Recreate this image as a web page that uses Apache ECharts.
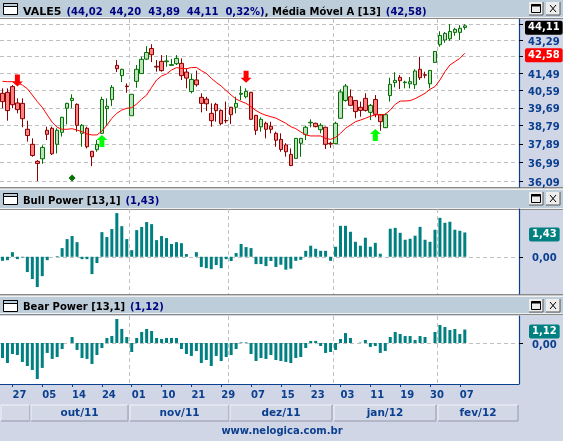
<!DOCTYPE html>
<html><head><meta charset="utf-8">
<style>html,body{margin:0;padding:0;background:#D0D6E6}#c{width:563px;height:441px}</style>
<script src="https://cdn.jsdelivr.net/npm/echarts@6/dist/echarts.min.js"></script>
</head><body><div id="c"></div>
<script>
// [open, close, low, high]
const candles = [
[40.44,40.01,39.67,40.70],[40.49,39.55,39.04,40.70],[40.79,39.85,39.67,40.87],[39.94,39.60,39.41,40.18],[39.92,39.14,38.71,40.18],
[38.61,38.30,38.00,39.04],[37.87,37.33,37.27,38.16],[37.05,36.95,36.12,37.11],[37.17,37.72,36.93,37.82],[38.56,38.36,38.08,38.74],
[38.66,37.41,37.35,38.74],[37.87,38.56,37.43,38.66],[38.46,39.21,38.25,39.24],[39.67,39.92,38.86,39.95],[40.07,40.18,39.67,40.39],
[39.87,38.81,38.49,39.92],[38.41,38.81,37.75,38.87],[38.66,37.75,37.67,38.74],[37.53,37.27,36.82,37.55],[37.61,37.87,37.51,38.08],
[38.41,40.12,38.38,40.26],[39.65,39.77,38.82,40.18],[40.11,40.75,39.78,40.87],[41.92,41.74,41.56,42.21],[41.37,41.71,41.03,41.74],
[40.82,40.79,40.47,40.96],[39.29,40.39,39.29,40.39],[41.07,41.71,40.73,41.94],[41.48,42.25,41.46,42.39],[42.26,42.62,42.21,42.97],
[42.84,42.50,42.10,43.08],[41.87,41.83,41.58,42.21],[42.14,41.64,41.58,42.48],[42.12,42.16,41.85,42.48],[41.92,41.96,41.90,42.27],
[42.01,42.30,41.94,42.48],[42.03,41.37,41.14,42.30],[41.56,41.24,40.70,41.76],[40.53,41.17,40.44,41.46],[41.14,40.89,40.79,41.64],
[40.23,39.92,39.46,40.44],[40.14,39.90,39.53,40.26],[39.41,39.04,38.74,39.92],[39.87,39.55,38.99,39.95],[39.56,38.89,38.82,39.61],
[39.05,39.03,38.91,40.01],[39.72,39.34,38.87,39.74],[39.72,39.92,39.41,40.26],[40.39,40.44,40.09,40.82],[40.26,40.54,40.18,40.70],
[40.49,39.11,39.07,40.52],[39.31,38.56,38.33,39.33],[38.73,39.11,38.49,39.21],[38.91,38.61,38.16,38.99],[38.76,38.61,38.41,38.99],
[38.41,38.07,37.75,38.49],[38.11,37.62,37.51,38.41],[37.84,37.51,37.27,37.92],[37.38,36.85,36.82,37.67],[37.19,38.16,37.17,38.18],
[37.92,38.16,37.27,38.18],[38.36,38.71,38.08,38.79],[38.93,38.96,38.71,39.11],[38.91,38.74,38.71,38.94],[38.59,38.81,38.41,38.91],
[38.71,37.87,37.64,38.74],[37.92,37.89,37.70,38.00],[37.90,38.91,37.87,38.99],[39.16,40.51,39.14,40.65],[40.07,40.82,40.01,40.93],
[40.26,39.82,39.78,40.65],[40.07,39.50,39.16,40.09],[39.72,39.56,39.24,40.01],[40.18,39.56,39.50,40.44],[39.46,39.82,39.07,39.89],
[40.12,39.36,39.21,40.35],[39.34,38.99,38.54,39.38],[38.69,39.34,38.67,39.41],[40.32,40.91,40.01,41.26],[41.00,41.12,40.75,41.55],
[41.28,41.10,40.66,41.40],[41.00,41.03,40.70,41.10],[40.94,41.05,40.70,41.30],[40.89,41.62,40.66,41.71],[41.71,41.26,41.14,42.39],
[41.42,41.39,41.23,41.58],[40.94,41.65,40.70,41.67],[42.08,42.68,42.06,42.70],[43.05,43.57,42.94,43.80],[43.31,43.68,43.16,43.76],
[43.38,43.79,43.27,44.21],[43.74,43.91,43.55,44.00],[43.74,43.97,43.31,44.15],[44.02,44.11,43.89,44.20]];
const movingAvg = [41.07,41.05,41.05,41.00,40.87,40.68,40.35,40.01,39.72,39.33,38.96,38.71,38.61,38.61,38.64,38.57,38.49,38.38,38.33,38.33,
38.52,38.82,39.16,39.41,39.58,39.67,39.70,39.89,40.14,40.35,40.75,41.14,41.35,41.46,41.67,41.80,41.76,41.74,41.80,41.81,
41.64,41.49,41.23,41.01,40.82,40.58,40.35,40.14,40.02,39.92,39.75,39.55,39.41,39.31,39.24,39.17,39.04,38.91,38.74,38.64,
38.48,38.33,38.28,38.28,38.28,38.16,38.11,38.21,38.41,38.66,38.82,38.99,39.07,39.16,39.26,39.33,39.34,39.36,39.58,39.87,
40.04,40.04,40.06,40.16,40.30,40.44,40.65,40.79,41.14,41.58,41.94,42.12,42.30,42.58];
const bullPower = [-0.24,-0.20,0.27,-0.14,-0.04,-0.90,-1.31,-1.78,-1.14,-0.20,0,0.04,0.51,1.04,1.22,0.86,-0.14,-0.14,-1.02,-0.37,
1.45,1.16,1.63,2.57,1.80,1.04,0.39,1.57,1.75,2.04,1.92,0.98,1.22,1.10,0.75,0.86,0.80,0.16,0,0.27,
-0.60,-0.67,-0.73,-0.49,-0.67,-0.14,-0.25,0.22,0.75,0.57,0.51,-0.43,-0.43,-0.55,-0.25,-0.60,-0.47,-0.76,-0.70,-0.24,
-0.18,0.35,0.65,0.47,0.35,0.35,-0.24,0.59,1.82,1.82,1.47,0.88,0.65,1.12,0.59,0.82,0.18,0,1.65,1.70,
1.41,1.00,1.06,1.24,1.76,1.00,0.88,1.59,2.29,2.00,2.06,1.59,1.53,1.43];
const bearPower = [-1.25,-1.67,-0.92,-1.00,-1.58,-1.92,-2.25,-3.00,-2.08,-0.83,-1.33,-1.17,-0.50,0,0.50,-0.58,-1.25,-1.33,-1.75,-1.00,
-0.42,0.42,0.58,2.00,1.17,0.50,-0.75,0.42,0.92,1.17,1.00,0.42,0.33,0.42,0.42,0.42,-0.50,-0.92,-1.08,-0.67,
-1.67,-1.42,-1.92,-1.08,-1.50,-1.17,-1.00,-0.50,0.05,0.05,-0.92,-1.50,-1.25,-1.33,-1.00,-1.42,-1.50,-1.58,-1.67,-1.25,
-1.17,-0.42,0.17,0.17,-0.25,-0.83,-0.75,-0.58,0.33,0.83,0.42,0,0.03,0.25,-0.33,-0.25,-0.83,-0.67,0.50,0.92,
0.75,0.58,0.58,0.25,0.58,0.50,0,0.92,1.50,1.33,1.08,1.17,0.75,1.12];
const dayTicks = ['27','05','14','24','01','10','21','29','07','15','23','03','11','19','30','07'];
const monthLabels = ['', 'out/11','nov/11','dez/11','jan/12','fev/12'];
const monthStarts = [6,26,46,67,88];
const priceTicks = [36.09,36.99,37.89,38.79,39.69,40.59,41.49,42.39,43.29,44.19];
const priceLabels = [36.09,36.99,37.89,38.79,39.69,40.59,41.49,43.29];
const lastClose = 44.11, lastAvg = 42.58, lastBull = 1.43, lastBear = 1.12;
const headerValues = ['44,02','44,20','43,89','44,11','0,32%'];
const sellSignals = [[3,41.11],[49,41.31]];
const buySignals = [[20,38.03],[75,38.33]];
const diamonds = [[14,36.26]];

const SLOTS = 104, BLUE = '#0B3F8F', BG = '#D0D6E6', BAR = '#BECDDA', GREY='#C0C0C0';
const cats = Array.from({length:SLOTS},(_,i)=> 'd'+i);
const comma = v => v.toFixed(2).replace('.',',');
const FF = '"DejaVu Sans", Verdana, sans-serif';
const isDayTick = i => i>=2 && (i-2)%6===0 && (i-2)/6<dayTicks.length;
const isMonth = i => monthStarts.includes(i);
const ARROW_DOWN='path://M3,0H8V7H11L5.5,12L0,7H3Z', ARROW_UP='path://M5.5,0L11,5H8V12H3V5H0Z';
const DASH=[4,3];

function xAxis(gridIndex, bottom){
  return {type:'category',gridIndex,data:cats,boundaryGap:true,min:0,max:SLOTS-1,
    axisLine:{show:bottom,onZero:false,lineStyle:{color:BLUE,width:1}},
    axisTick:{show:bottom,alignWithLabel:true,length:3,interval:i=>isDayTick(i),lineStyle:{color:BLUE}},
    axisLabel:{show:bottom,interval:i=>isDayTick(i),align:'left',margin:6,color:BLUE,fontFamily:FF,fontWeight:'bold',fontSize:10,
      formatter:v=>{const i=+v.slice(1);return isDayTick(i)?dayTicks[(i-2)/6]:'';},hideOverlap:false,showMinLabel:true,showMaxLabel:true},
    splitLine:{show:true,showMaxLine:false,showMinLine:false,interval:i=>isMonth(i),lineStyle:{color:GREY,type:DASH,width:1}}};
}
function yAxisBase(gridIndex,extra){
  return Object.assign({gridIndex,position:'right',offset:2,scale:false,
    axisLine:{show:true,onZero:false,lineStyle:{color:BLUE,width:1.2}},
    axisTick:{show:true,length:4,lineStyle:{color:'#000'}},
    splitLine:{show:true,lineStyle:{color:GREY,type:DASH,width:1}}},extra);
}
const plain = {color:BLUE,fontFamily:FF,fontWeight:'bold',fontSize:10,padding:[1,3,1,3]};
const tag = c => ({color:'#fff',backgroundColor:c,borderRadius:2,fontFamily:FF,fontWeight:'bold',fontSize:10,padding:[2,3,2,3]});
const T = (color,size)=>({color,fontFamily:FF,fontWeight:'bold',fontSize:size});

const option = {
  backgroundColor:BG, animation:false,
  title:[
    {left:23,top:3,padding:0,text:`{h|VALE5} {v|(${headerValues[0]}  ${headerValues[1]}  ${headerValues[2]}  ${headerValues[3]}  ${headerValues[4]})}{k|, Média Móvel A [13]} {v|(${comma(lastAvg)})}`,
     textStyle:{rich:{h:T('#000',11),k:T('#000',10),v:T('#000080',10)}}},
    {left:23,top:192,padding:0,text:`{k|Bull Power [13,1]} {v|(${comma(lastBull)})}`,
     textStyle:{rich:{k:T('#000',10),v:T('#000080',10)}}},
    {left:23,top:298,padding:0,text:`{k|Bear Power [13,1]} {v|(${comma(lastBear)})}`,
     textStyle:{rich:{k:T('#000',10),v:T('#000080',10)}}}
  ],
  grid:[
    {left:0,width:517,top:19,height:168,outerBoundsMode:'none'},
    {left:0,width:517,top:209,height:85,outerBoundsMode:'none'},
    {left:0,width:517,top:316,height:68,outerBoundsMode:'none'}
  ],
  xAxis:[xAxis(0,false),xAxis(1,false),xAxis(2,true)],
  yAxis:[
    yAxisBase(0,{type:'log',logBase:Math.E,min:35.845,max:44.50,
      axisTick:{show:true,length:4,customValues:priceTicks,lineStyle:{color:'#000'}},
      axisLabel:{customValues:priceLabels.concat([lastClose,lastAvg]),margin:6,padding:[4,0,0,0],hideOverlap:false,
        formatter:v=>{ if(v===lastClose) return '{b|'+comma(v)+'}'; if(v===lastAvg) return '{r|'+comma(v)+'}'; return '{p|'+comma(v)+'}'; },
        rich:{p:plain,b:tag('#000'),r:tag('#FF0000')}}}),
    yAxisBase(1,{type:'value',min:-2.19,max:2.81,
      axisTick:{show:true,length:4,customValues:[0],lineStyle:{color:'#000'}},
      axisLabel:{customValues:[0,lastBull],margin:10,padding:[4,0,0,0],hideOverlap:false,
        formatter:v=>v===0?'{p|'+comma(v)+'}':'{t|'+comma(v)+'}',rich:{p:plain,t:tag('#008080')}}}),
    yAxisBase(2,{type:'value',min:-3.42,max:2.25,
      axisTick:{show:true,length:4,customValues:[0],lineStyle:{color:'#000'}},
      axisLabel:{customValues:[0,lastBear],margin:10,padding:[4,0,0,0],hideOverlap:false,
        formatter:v=>v===0?'{p|'+comma(v)+'}':'{t|'+comma(v)+'}',rich:{p:plain,t:tag('#008080')}}})
  ],
  series:[
    {type:'candlestick',xAxisIndex:0,yAxisIndex:0,barWidth:4,data:candles,
     itemStyle:{color:'#BFE0BF',color0:'#FF8080',borderColor:'#007000',borderColor0:'#8B0000',borderWidth:1}},
    {type:'line',xAxisIndex:0,yAxisIndex:0,data:movingAvg,showSymbol:false,symbol:'none',smooth:false,z:3,lineStyle:{color:'#FF0000',width:1}},
    {type:'scatter',xAxisIndex:0,yAxisIndex:0,data:sellSignals,symbol:ARROW_DOWN,symbolSize:[11,12],z:5,itemStyle:{color:'#FF0000',opacity:1}},
    {type:'scatter',xAxisIndex:0,yAxisIndex:0,data:buySignals,symbol:ARROW_UP,symbolSize:[11,12],z:5,itemStyle:{color:'#00FF00',opacity:1}},
    {type:'scatter',xAxisIndex:0,yAxisIndex:0,data:diamonds,symbol:'diamond',symbolSize:[7,7],z:5,itemStyle:{color:'#007000',opacity:1}},
    {type:'bar',xAxisIndex:1,yAxisIndex:1,barWidth:3,data:bullPower,itemStyle:{color:'#008080'}},
    {type:'bar',xAxisIndex:2,yAxisIndex:2,barWidth:3,data:bearPower,itemStyle:{color:'#008080'}}
  ],
  graphic:[]
};

// window chrome
const g = option.graphic;
const rect=(x,y,w,h,fill,z,stroke)=>g.push({type:'rect',silent:true,z:z==null?-1:z,shape:{x,y,width:w,height:h},style:{fill,stroke:stroke||null,lineWidth:stroke?1:0}});
const line=(x1,y1,x2,y2,c,w)=>g.push({type:'line',silent:true,z:1,shape:{x1,y1,x2,y2},style:{stroke:c,lineWidth:w||1}});
// plot backgrounds
rect(0,19,519,168,'#fff'); rect(0,209,519,85,'#fff'); rect(0,316,519,68,'#fff');
line(517,384.5,519,384.5,BLUE,1);
function titleBar(top,h){
  rect(0,top,563,h,BAR);
  rect(0,top-3,563,1,'#8A8A8A'); rect(0,top-2,563,1,'#C8C8C8'); rect(0,top-1,563,1,'#F0F0F0');
  rect(0,top+h,563,1,'#F0F0F0'); rect(0,top+h+1,563,1,'#8A8A8A');
  // window icon
  rect(3.5,top+3.5,14,11,'#fff',1,'#000'); rect(3.5,top+3.5,14,3,BAR,1,'#000');
  // buttons
  [529,546].forEach((bx,k)=>{
    rect(bx,top+2,14,13,'#EDEDED',1); line(bx,top+15,bx+14,top+15,'#555'); line(bx+14,top+2,bx+14,top+15,'#555');
    if(k===0){ rect(bx+2.5,top+4.5,9,8,'#EDEDED',1,'#000'); rect(bx+2.5,top+4.5,9,2,'#000',1); }
    else { line(bx+4,top+5,bx+10,top+12,'#000'); line(bx+10,top+5,bx+4,top+12,'#000'); }
  });
}
titleBar(0,17); titleBar(190,18); titleBar(297,16);
// month buttons (real text, from the named list)
const monthX=[[1,29],[31,97],[130,99],[230,102],[334,102],[438,80]];
monthLabels.forEach((m,i)=>{
  const [x,w]=monthX[i];
  rect(x,405,w,16,'#D3D8E6',0); line(x,405,x+w,405,'#F2F4FA'); line(x,405,x,421,'#F2F4FA');
  line(x,421,x+w,421,'#A8ADBC',1.5); line(x+w,405,x+w,421,'#A8ADBC',1.5);
  if(m) g.push({type:'text',silent:true,z:2,style:{text:m,x:x+w/2,y:413.5,align:'center',verticalAlign:'middle',fill:BLUE,font:'bold 10.5px '+FF}});
});
g.push({type:'text',silent:true,z:2,style:{text:'www.nelogica.com.br',x:282,y:431,align:'center',verticalAlign:'middle',fill:BLUE,font:'bold 10px '+FF}});

const chart = echarts.init(document.getElementById('c'),null,{renderer:'canvas'});
chart.setOption(option);
</script></body></html>
